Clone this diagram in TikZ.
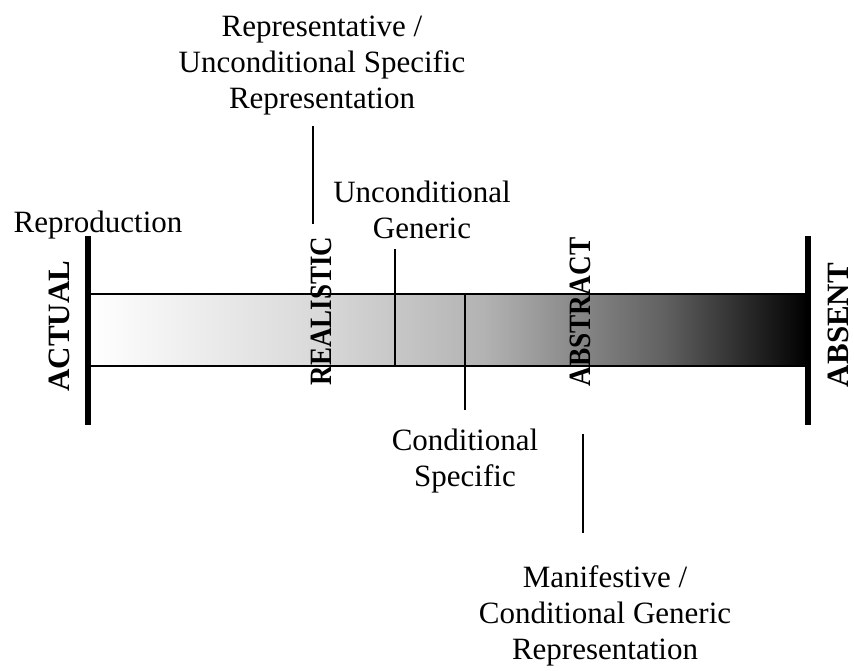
\documentclass[tikz,border=0pt]{standalone}
\usepackage{fontspec}
\setmainfont{Liberation Serif}
\usetikzlibrary{positioning}

% grey ramp of the scale, white on the left to black on the right
\pgfdeclarehorizontalshading{greyramp}{100bp}{color(0bp)=(white); color(25bp)=(white); color(41bp)=(black!15); color(52.5bp)=(black!30); color(65bp)=(black!62); color(75bp)=(black); color(100bp)=(black)}

\begin{document}
\begin{tikzpicture}[x=1pt,y=-1pt,
  txt/.style={font=\fontsize{31}{36}\selectfont, align=center, inner sep=0pt, anchor=base},
  pole/.style={font=\fontsize{31}{36}\selectfont\bfseries, rotate=90, inner sep=0pt},
  tick/.style={line width=1.4pt},
  stopline/.style={line width=5.5pt}]
\useasboundingbox (0,0) rectangle (854,670);

% the scale
\node[draw, line width=1.4pt, shading=greyramp, minimum width=720pt, minimum height=72pt, inner sep=0pt] (scale) at (448,330) {};
\coordinate (left top) at (88,236);
\coordinate (left bottom) at (88,425);
\coordinate (right top) at (808,236);
\coordinate (right bottom) at (808,425);
\draw[stopline] (left top) -- (left bottom);
\draw[stopline] (right top) -- (right bottom);

% the poles
\node[pole] (actual) at (59,326) {ACTUAL};
\node[pole] (realistic) at (321,311) {\scalebox{0.87}[1]{REALISTIC}};
\node[pole] (abstract) at (580,312) {\scalebox{0.88}[1]{ABSTRACT}};
\node[pole] (absent) at (838,325) {ABSENT};

% the labels (base is the last line)
\node[txt] (repro) at (98,232) {Reproduction};
\node[txt] (rep) at (322,108) {Representative /\\Unconditional Specific\\Representation};
\node[txt] (ug) at (422,238) {Unconditional\\Generic};
\node[txt] (cs) at (465,486) {Conditional\\Specific};
\node[txt] (mg) at (605,659) {Manifestive /\\Conditional Generic\\Representation};

% the ticks
\coordinate (rep top) at (313,126);
\coordinate (rep bottom) at (313,224);
\coordinate (ug top) at (395,249);
\coordinate (cs bottom) at (465,410);
\coordinate (mg top) at (583,434);
\coordinate (mg bottom) at (583,533);
\draw[tick] (rep top) -- (rep bottom);
\draw[tick] (ug top) -- (ug top |- scale.south);
\draw[tick] (cs bottom |- scale.north) -- (cs bottom);
\draw[tick] (mg top) -- (mg bottom);
\end{tikzpicture}
\end{document}
